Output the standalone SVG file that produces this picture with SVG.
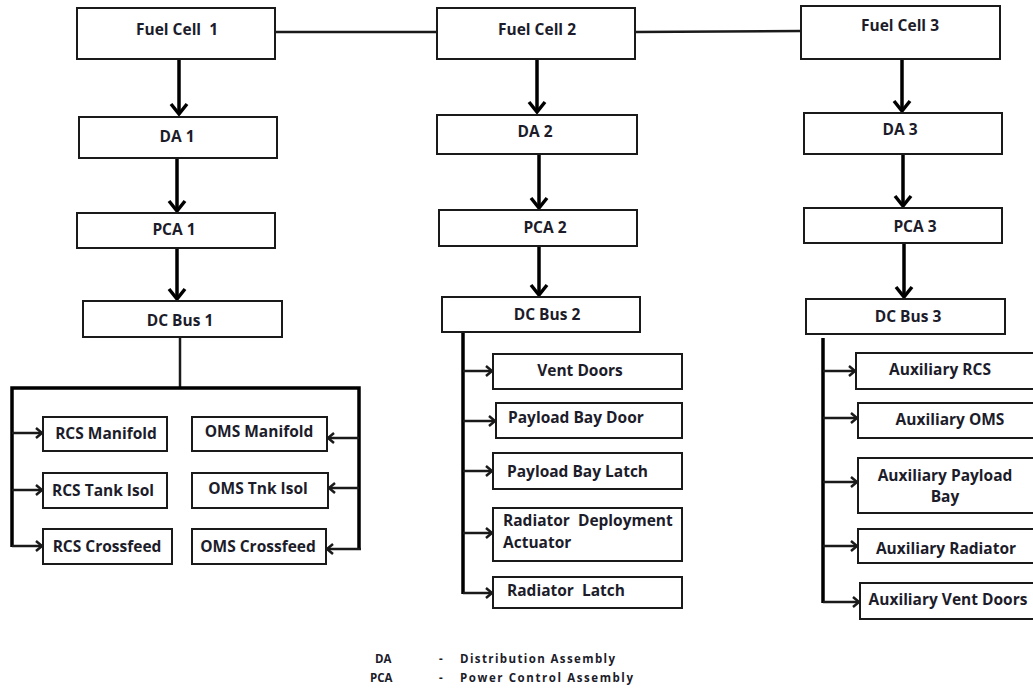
<svg xmlns="http://www.w3.org/2000/svg" width="1033" height="688" viewBox="0 0 1033 688">
<style>
.box{fill:#fff;stroke:#1a1a1a;stroke-width:2}
.t{font-family:"Open Sans",Lato,"Liberation Sans",sans-serif;font-weight:bold;font-size:15.5px;fill:#1c1c2a;text-anchor:middle}
.tl{font-family:"Open Sans",Lato,"Liberation Sans",sans-serif;font-weight:bold;font-size:15.5px;fill:#1c1c2a}
.pre{white-space:pre}
.lg{font-family:"Open Sans",Lato,"Liberation Sans",sans-serif;font-weight:bold;font-size:11.5px;fill:#1c1c2a}
.main{stroke:#000;stroke-width:3.5;fill:none}
.bus{stroke:#000;stroke-width:3.5;fill:none}
.thin{stroke:#1a1a1a;stroke-width:2.5;fill:none}
.br{stroke:#1a1a1a;stroke-width:2.5;fill:none}
</style>
<defs>
<marker id="big" markerUnits="userSpaceOnUse" markerWidth="24" markerHeight="24" viewBox="-12 -12 24 24" refX="0" refY="0" orient="auto">
<path d="M-10,-8 L0,0 L-10,8" fill="none" stroke="#000" stroke-width="3.5"/>
</marker>
<marker id="sm" markerUnits="userSpaceOnUse" markerWidth="16" markerHeight="16" viewBox="-8 -8 16 16" refX="0" refY="0" orient="auto">
<path d="M-6,-5 L0,0 L-6,5" fill="none" stroke="#1a1a1a" stroke-width="2.5"/>
</marker>
</defs>

<g id="connectors">
<line class="thin" x1="275" y1="32" x2="437" y2="32"/>
<line class="thin" x1="635" y1="32" x2="801" y2="31"/>
<line class="main" x1="179" y1="59" x2="179" y2="114" marker-end="url(#big)"/>
<line class="main" x1="177" y1="158" x2="177" y2="211" marker-end="url(#big)"/>
<line class="main" x1="177" y1="248" x2="177" y2="299" marker-end="url(#big)"/>
<line class="main" x1="537" y1="59" x2="537" y2="112" marker-end="url(#big)"/>
<line class="main" x1="539" y1="154" x2="539" y2="208" marker-end="url(#big)"/>
<line class="main" x1="539" y1="246" x2="539" y2="295" marker-end="url(#big)"/>
<line class="main" x1="902" y1="59" x2="902" y2="111" marker-end="url(#big)"/>
<line class="main" x1="903" y1="154" x2="903" y2="206" marker-end="url(#big)"/>
<line class="main" x1="904" y1="243" x2="904" y2="297" marker-end="url(#big)"/>
<line class="thin" x1="180" y1="337" x2="180" y2="388"/>
<polyline class="bus" points="12,547 12,388 359,388 359,550"/>
<line class="br" x1="12" y1="433" x2="42" y2="433" marker-end="url(#sm)"/>
<line class="br" x1="12" y1="490" x2="42" y2="490" marker-end="url(#sm)"/>
<line class="br" x1="12" y1="546" x2="42" y2="546" marker-end="url(#sm)"/>
<line class="br" x1="359" y1="438" x2="328" y2="438" marker-end="url(#sm)"/>
<line class="br" x1="359" y1="488" x2="329" y2="488" marker-end="url(#sm)"/>
<line class="br" x1="361" y1="549" x2="327" y2="549" marker-end="url(#sm)"/>
<line class="bus" x1="463" y1="332" x2="463" y2="594"/>
<line class="br" x1="463" y1="371" x2="492" y2="371" marker-end="url(#sm)"/>
<line class="br" x1="463" y1="421" x2="495" y2="421" marker-end="url(#sm)"/>
<line class="br" x1="463" y1="471" x2="492" y2="471" marker-end="url(#sm)"/>
<line class="br" x1="463" y1="533" x2="492" y2="533" marker-end="url(#sm)"/>
<line class="br" x1="463" y1="593" x2="492" y2="593" marker-end="url(#sm)"/>
<line class="bus" x1="823" y1="338" x2="823" y2="603"/>
<line class="br" x1="823" y1="371" x2="855" y2="371" marker-end="url(#sm)"/>
<line class="br" x1="823" y1="418" x2="857" y2="418" marker-end="url(#sm)"/>
<line class="br" x1="823" y1="482" x2="857" y2="482" marker-end="url(#sm)"/>
<line class="br" x1="823" y1="546" x2="857" y2="546" marker-end="url(#sm)"/>
<line class="br" x1="823" y1="602" x2="859" y2="602" marker-end="url(#sm)"/>
</g>

<g id="fc1"><rect class="box" x="77" y="8" width="198" height="51"/><text class="t pre" x="177" y="35">Fuel Cell  1</text></g>
<g id="fc2"><rect class="box" x="437" y="8" width="198" height="51"/><text class="t" x="537" y="35">Fuel Cell 2</text></g>
<g id="fc3"><rect class="box" x="801" y="6" width="199" height="53"/><text class="t" x="900" y="31">Fuel Cell 3</text></g>
<g id="da1"><rect class="box" x="79" y="117" width="198" height="41"/><text class="t" x="177" y="142">DA 1</text></g>
<g id="da2"><rect class="box" x="437" y="115" width="200" height="39"/><text class="t" x="535" y="137">DA 2</text></g>
<g id="da3"><rect class="box" x="804" y="113" width="198" height="41"/><text class="t" x="900" y="135">DA 3</text></g>
<g id="pca1"><rect class="box" x="77" y="213" width="198" height="35"/><text class="t" x="174" y="235">PCA 1</text></g>
<g id="pca2"><rect class="box" x="439" y="210" width="198" height="36"/><text class="t" x="545" y="233">PCA 2</text></g>
<g id="pca3"><rect class="box" x="804" y="208" width="198" height="35"/><text class="t" x="915" y="232">PCA 3</text></g>
<g id="dcbus1"><rect class="box" x="83" y="301" width="199" height="36"/><text class="t" x="180" y="326">DC Bus 1</text></g>
<g id="dcbus2"><rect class="box" x="442" y="297" width="198" height="35"/><text class="t" x="547" y="320">DC Bus 2</text></g>
<g id="dcbus3"><rect class="box" x="806" y="299" width="199" height="35"/><text class="t" x="908" y="322">DC Bus 3</text></g>

<g id="rcs-manifold"><rect class="box" x="43" y="417" width="124" height="34"/><text class="t" x="106" y="439">RCS Manifold</text></g>
<g id="rcs-tank-isol"><rect class="box" x="43" y="473" width="124" height="35"/><text class="t" x="103" y="496">RCS Tank Isol</text></g>
<g id="rcs-crossfeed"><rect class="box" x="43" y="529" width="129" height="35"/><text class="t" x="107" y="552">RCS Crossfeed</text></g>
<g id="oms-manifold"><rect class="box" x="192" y="417" width="135" height="34"/><text class="t" x="259" y="437">OMS Manifold</text></g>
<g id="oms-tnk-isol"><rect class="box" x="192" y="473" width="136" height="35"/><text class="t" x="258" y="494">OMS Tnk Isol</text></g>
<g id="oms-crossfeed"><rect class="box" x="192" y="529" width="134" height="35"/><text class="t" x="258" y="552">OMS Crossfeed</text></g>

<g id="vent-doors"><rect class="box" x="493" y="354" width="189" height="35"/><text class="t" x="580" y="376">Vent Doors</text></g>
<g id="payload-bay-door"><rect class="box" x="496" y="403" width="186" height="35"/><text class="tl" x="508" y="423">Payload Bay Door</text></g>
<g id="payload-bay-latch"><rect class="box" x="493" y="453" width="189" height="36"/><text class="tl" x="507" y="477">Payload Bay Latch</text></g>
<g id="radiator-deployment-actuator"><rect class="box" x="493" y="508" width="189" height="53"/><text class="tl pre" x="503" y="526">Radiator  Deployment</text><text class="tl" x="503" y="548">Actuator</text></g>
<g id="radiator-latch"><rect class="box" x="493" y="577" width="189" height="31"/><text class="tl pre" x="507" y="596">Radiator  Latch</text></g>

<g id="aux-rcs"><rect class="box" x="856" y="353" width="190" height="36"/><text class="t" x="940" y="375">Auxiliary RCS</text></g>
<g id="aux-oms"><rect class="box" x="858" y="403" width="190" height="35"/><text class="t" x="950" y="425">Auxiliary OMS</text></g>
<g id="aux-payload-bay"><rect class="box" x="858" y="458" width="190" height="55"/><text class="t" x="945" y="481">Auxiliary Payload</text><text class="t" x="945" y="502">Bay</text></g>
<g id="aux-radiator"><rect class="box" x="858" y="529" width="190" height="34"/><text class="t" x="946" y="554">Auxiliary Radiator</text></g>
<g id="aux-vent-doors"><rect class="box" x="860" y="583" width="190" height="36"/><text class="t" x="948" y="605">Auxiliary Vent Doors</text></g>

<g id="legend">
<text class="lg" x="375" y="663">DA</text><text class="lg" x="439" y="663">-</text><text class="lg" x="460" y="663" textLength="155" lengthAdjust="spacing">Distribution Assembly</text>
<text class="lg" x="370" y="682">PCA</text><text class="lg" x="439" y="682">-</text><text class="lg" x="460" y="682" textLength="173" lengthAdjust="spacing">Power Control Assembly</text>
</g>
</svg>
